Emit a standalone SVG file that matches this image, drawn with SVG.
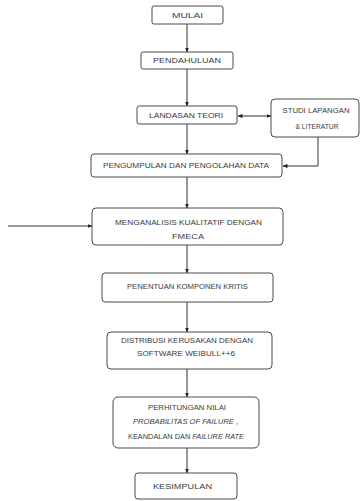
<svg xmlns="http://www.w3.org/2000/svg" width="361" height="501" viewBox="0 0 361 501">
<style>
.box{fill:#ffffff;stroke:#4a4a4a;stroke-width:1}
.t{font-family:"Liberation Sans",Arial,sans-serif;font-size:7px;fill:#3a3a3a;text-anchor:middle}
.i{font-style:italic}
.c{fill:none;stroke:#333333;stroke-width:1}
</style>
<defs>
<marker id="ah" viewBox="0 0 10 10" refX="9" refY="5" markerWidth="5" markerHeight="5" orient="auto-start-reverse" markerUnits="userSpaceOnUse">
<path d="M0,1 L10,5 L0,9 z" fill="#222222"/>
</marker>
</defs>
<rect width="361" height="501" fill="#ffffff"/>
<g id="connectors">
<line class="c" x1="187" y1="24" x2="187" y2="52" marker-end="url(#ah)"/>
<line class="c" x1="187" y1="69" x2="187" y2="106" marker-end="url(#ah)"/>
<line class="c" x1="187" y1="124" x2="187" y2="154" marker-end="url(#ah)"/>
<line class="c" x1="238" y1="116" x2="271" y2="116" marker-start="url(#ah)" marker-end="url(#ah)"/>
<polyline class="c" points="318,137 318,166 283,166" marker-end="url(#ah)"/>
<line class="c" x1="187" y1="177" x2="187" y2="208" marker-end="url(#ah)"/>
<line class="c" x1="8" y1="226" x2="92" y2="226" marker-end="url(#ah)"/>
<line class="c" x1="187" y1="245" x2="187" y2="273" marker-end="url(#ah)"/>
<line class="c" x1="187" y1="302" x2="187" y2="332" marker-end="url(#ah)"/>
<line class="c" x1="187" y1="369" x2="187" y2="397" marker-end="url(#ah)"/>
<line class="c" x1="187" y1="448" x2="187" y2="473" marker-end="url(#ah)"/>
</g>
<g id="mulai">
<rect class="box" x="152" y="6" width="71" height="18" rx="2"/>
<text class="t" x="187.5" y="17.5" textLength="31" lengthAdjust="spacingAndGlyphs">MULAI</text>
</g>
<g id="pendahuluan">
<rect class="box" x="141" y="52" width="92" height="17" rx="2"/>
<text class="t" x="187" y="63" textLength="68" lengthAdjust="spacingAndGlyphs">PENDAHULUAN</text>
</g>
<g id="landasan">
<rect class="box" x="137" y="106" width="100" height="18" rx="2"/>
<text class="t" x="186" y="117.5" textLength="74" lengthAdjust="spacingAndGlyphs">LANDASAN TEORI</text>
</g>
<g id="studi">
<rect class="box" x="271" y="99" width="88" height="38" rx="4"/>
<text class="t" x="316" y="112.5" textLength="67" lengthAdjust="spacingAndGlyphs">STUDI LAPANGAN</text>
<text class="t" x="317" y="129" textLength="43" lengthAdjust="spacingAndGlyphs">&amp; LITERATUR</text>
</g>
<g id="pengumpulan">
<rect class="box" x="91" y="154" width="191" height="23" rx="3"/>
<text class="t" x="186" y="168" textLength="166" lengthAdjust="spacingAndGlyphs">PENGUMPULAN DAN PENGOLAHAN DATA</text>
</g>
<g id="menganalisis">
<rect class="box" x="92" y="208" width="191" height="37" rx="4"/>
<text class="t" x="188.5" y="224.5" textLength="147" lengthAdjust="spacingAndGlyphs">MENGANALISIS KUALITATIF DENGAN</text>
<text class="t" x="188" y="238.5" textLength="32" lengthAdjust="spacingAndGlyphs">FMECA</text>
</g>
<g id="penentuan">
<rect class="box" x="102" y="273" width="171" height="29" rx="3"/>
<text class="t" x="187.5" y="289" textLength="121" lengthAdjust="spacingAndGlyphs">PENENTUAN KOMPONEN KRITIS</text>
</g>
<g id="distribusi">
<rect class="box" x="107" y="332" width="165" height="37" rx="4"/>
<text class="t" x="187" y="343" textLength="132" lengthAdjust="spacingAndGlyphs">DISTRIBUSI KERUSAKAN DENGAN</text>
<text class="t" x="186" y="356" textLength="98" lengthAdjust="spacingAndGlyphs">SOFTWARE WEIBULL++6</text>
</g>
<g id="perhitungan">
<rect class="box" x="113" y="397" width="146" height="51" rx="5"/>
<text class="t" x="187" y="410" textLength="78" lengthAdjust="spacingAndGlyphs">PERHITUNGAN NILAI</text>
<text class="t" x="185.5" y="424" textLength="105" lengthAdjust="spacingAndGlyphs"><tspan class="i">PROBABILITAS OF FAILURE</tspan> ,</text>
<text class="t" x="186" y="438.5" textLength="116" lengthAdjust="spacingAndGlyphs">KEANDALAN DAN <tspan class="i">FAILURE RATE</tspan></text>
</g>
<g id="kesimpulan">
<rect class="box" x="135" y="473" width="102" height="26" rx="3"/>
<text class="t" x="182.5" y="489" textLength="59" lengthAdjust="spacingAndGlyphs">KESIMPULAN</text>
</g>
</svg>
